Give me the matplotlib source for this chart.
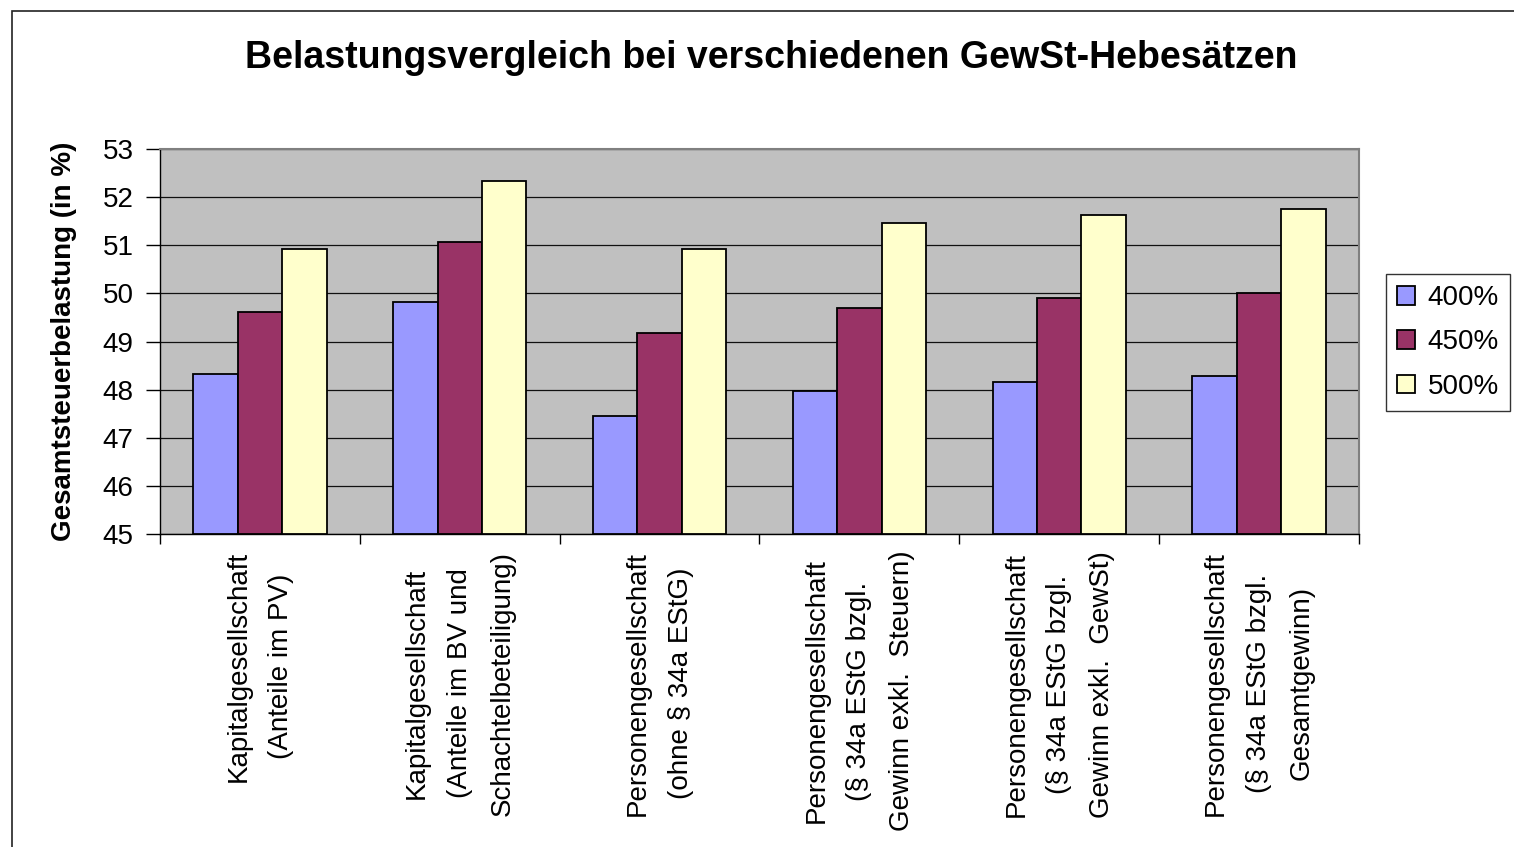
import matplotlib
matplotlib.use('Agg')
import matplotlib.pyplot as plt
from matplotlib.patches import Rectangle
import numpy as np

plt.rcParams['font.family'] = ['Liberation Sans', 'DejaVu Sans']

categories = [
    'Kapitalgesellschaft\n(Anteile im PV)',
    'Kapitalgesellschaft\n(Anteile im BV und\nSchachtelbeteiligung)',
    'Personengesellschaft\n(ohne § 34a EStG)',
    'Personengesellschaft\n(§ 34a EStG bzgl.\nGewinn exkl.  Steuern)',
    'Personengesellschaft\n(§ 34a EStG bzgl.\nGewinn exkl.  GewSt)',
    'Personengesellschaft\n(§ 34a EStG bzgl.\nGesamtgewinn)',
]
series_names = ['400%', '450%', '500%']
hebesatz_400 = [48.32, 49.82, 47.45, 47.98, 48.15, 48.28]
hebesatz_450 = [49.61, 51.06, 49.17, 49.69, 49.91, 50.00]
hebesatz_500 = [50.93, 52.33, 50.93, 51.46, 51.63, 51.76]
yticks = [45, 46, 47, 48, 49, 50, 51, 52, 53]

colors = ['#9999FF', '#993366', '#FFFFCC']

W, H = 1514, 847
fig = plt.figure(figsize=(W / 100, H / 100), dpi=100)
fig.patch.set_facecolor('white')

# outer chart frame (cut off at right / bottom)
fig.patches.append(Rectangle((12 / W, -0.1), 1.2, 1 - 11 / H + 0.1,
                             transform=fig.transFigure, fill=False,
                             edgecolor='#222222', lw=1.2))

ax = fig.add_axes([160 / W, 1 - 534 / H, 1199 / W, 385 / H])
ax.set_facecolor('#C0C0C0')

x = np.arange(len(categories))
bw = 1 / 4.5
for k, vals in enumerate([hebesatz_400, hebesatz_450, hebesatz_500]):
    ax.bar(x + (k - 1) * bw, np.array(vals) - 45, bottom=45, width=bw,
           color=colors[k], edgecolor='black', linewidth=1.3,
           label=series_names[k], zorder=3)

ax.set_xlim(-0.5, len(categories) - 0.5)
ax.set_ylim(45, 53)
ax.set_yticks(yticks)
ax.yaxis.grid(True, color='#111111', lw=0.9, zorder=1)
ax.set_axisbelow(True)

ax.set_xticks(x)
ax.set_xticklabels(categories, rotation=90, ha='center', va='top',
                   multialignment='center', linespacing=1.85, fontsize=20)
ax.set_xticks(np.arange(len(categories) + 1) - 0.5, minor=True)
ax.tick_params(axis='x', which='major', length=0, pad=12)
ax.tick_params(axis='x', which='minor', length=7, width=1, direction='out')
ax.tick_params(axis='y', labelsize=20, length=10, width=1, pad=9)

for s in ['left', 'bottom']:
    ax.spines[s].set_color('black')
    ax.spines[s].set_linewidth(1.0)
for s in ['top', 'right']:
    ax.spines[s].set_color('#808080')
    ax.spines[s].set_linewidth(1.5)

ax.set_ylabel('Gesamtsteuerbelastung (in %)', fontsize=20, fontweight='bold')
ax.yaxis.set_label_coords(-0.069, 0.5)

fig.text(771 / W, 1 - 58 / H,
         'Belastungsvergleich bei verschiedenen GewSt-Hebesätzen',
         ha='center', va='center', fontsize=27, fontweight='bold')

leg = fig.legend(loc='upper left', bbox_to_anchor=(1386 / W, 1 - 274 / H),
                 fontsize=20, frameon=True, fancybox=False, edgecolor='black',
                 handlelength=0.65, handleheight=0.65, handletextpad=0.45,
                 labelspacing=0.66, borderpad=0.4, borderaxespad=0)
leg.get_frame().set_linewidth(1.0)

fig.savefig('out.png', dpi=100)
